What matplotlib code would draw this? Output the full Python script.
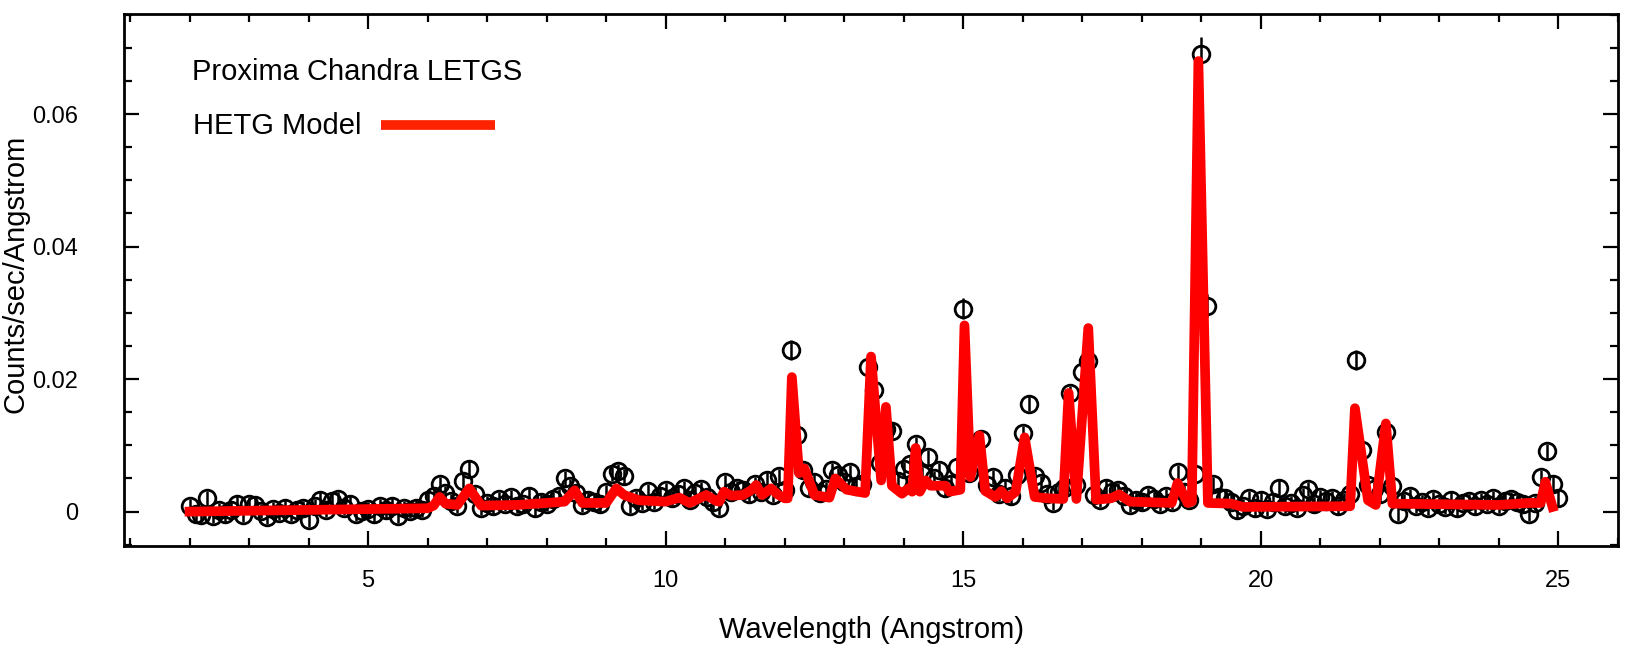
import numpy as np
import matplotlib
matplotlib.use("Agg")
import matplotlib.pyplot as plt
from matplotlib.ticker import MultipleLocator, FuncFormatter

plt.rcParams['font.family'] = ['Liberation Sans', 'DejaVu Sans']

# LETGS spectrum, 0.1 Angstrom bins from 2.0 to 25.0 (counts/sec/A, in units of 1e-3)
wave = np.round(np.arange(2.0, 25.0001, 0.1), 2)
flux_e3 = [
    0.8, -0.3, -0.5, 2.0, -0.6, 0.2, -0.4, 0.3, 1.2, -0.5,      # 2.0 - 2.9
    1.1, 1.0, 0.1, -0.8, 0.4, -0.2, 0.6, -0.3, 0.2, 0.5,        # 3.0 - 3.9
    -1.2, 0.8, 1.8, 0.3, 1.6, 1.9, 0.6, 1.2, -0.3, 0.1,         # 4.0 - 4.9
    0.4, -0.4, 0.8, 0.2, 0.9, -0.6, 0.5, 0.1, 0.6, 0.3,         # 5.0 - 5.9
    1.8, 2.4, 4.1, 2.8, 1.6, 0.9, 4.6, 6.5, 2.6, 0.6,           # 6.0 - 6.9
    1.3, 0.8, 1.9, 1.2, 2.2, 0.9, 1.1, 2.4, 0.5, 1.5,           # 7.0 - 7.9
    1.2, 1.9, 2.3, 5.0, 3.8, 2.8, 1.0, 1.8, 1.4, 1.1,           # 8.0 - 8.9
    2.9, 5.7, 6.1, 5.3, 0.9, 2.0, 1.3, 3.1, 1.5, 2.4,           # 9.0 - 9.9
    3.2, 2.0, 2.7, 3.5, 1.8, 2.8, 3.4, 2.2, 1.4, 0.6,           # 10.0 - 10.9
    4.4, 2.9, 3.5, 3.2, 2.6, 4.1, 3.0, 4.8, 2.5, 5.3,           # 11.0 - 11.9
    3.3, 24.4, 11.5, 6.2, 3.6, 4.5, 2.8, 3.4, 6.3, 5.5,         # 12.0 - 12.9
    4.4, 5.9, 3.8, 4.2, 21.8, 18.3, 7.3, 12.4, 12.2, 4.6,       # 13.0 - 13.9
    6.4, 7.2, 10.2, 5.6, 8.2, 5.0, 6.3, 3.5, 4.2, 6.8,          # 14.0 - 14.9
    30.6, 5.8, 9.3, 10.9, 4.0, 5.2, 2.7, 3.6, 2.3, 5.5,         # 15.0 - 15.9
    11.8, 16.3, 5.4, 4.3, 2.6, 1.3, 2.9, 3.5, 17.9, 4.0,        # 16.0 - 16.9
    21.0, 22.7, 2.5, 1.8, 3.6, 2.9, 3.2, 2.4, 1.0, 1.8,         # 17.0 - 17.9
    1.4, 2.5, 1.9, 1.2, 2.3, 1.5, 5.9, 3.0, 1.8, 5.6,           # 18.0 - 18.9
    69.1, 31.1, 4.1, 2.2, 2.0, 1.5, 0.2, 0.8, 2.0, 0.5,         # 19.0 - 19.9
    1.8, 0.4, 1.5, 3.6, 0.9, 1.3, 0.6, 2.5, 3.4, 1.1,           # 20.0 - 20.9
    2.2, 1.6, 2.0, 0.8, 1.7, 2.6, 22.9, 9.3, 4.0, 3.4,          # 21.0 - 21.9
    2.6, 12.0, 3.9, -0.3, 1.6, 2.3, 0.9, 1.4, 0.6, 1.9,         # 22.0 - 22.9
    1.1, 0.7, 1.8, 0.5, 1.3, 1.6, 0.8, 1.7, 1.2, 2.0,           # 23.0 - 23.9
    0.9, 1.6, 1.9, 1.4, 1.1, -0.3, 1.3, 5.2, 9.1, 4.2,          # 24.0 - 24.9
    2.0,                                                        # 25.0
]
# error bars: typical size, larger on the strong lines
err_default_e3 = 1.1
err_peaks_e3 = {12.1: 1.5, 13.4: 1.5, 15.0: 1.6, 17.1: 1.5, 19.0: 2.6, 19.1: 1.7, 21.6: 1.5}

# HETG model vertices (wavelength, flux in 1e-3)
model_wave = [
    2.0, 6.0, 6.1, 6.2, 6.3, 6.5, 6.7, 6.9, 7.5, 8.0, 8.3, 8.47, 8.6, 9.0, 9.17,
    9.3, 9.55, 10.0, 10.23, 10.4, 10.68, 10.85, 10.9, 10.98, 11.1, 11.3, 11.45,
    11.52, 11.62, 11.77, 11.88, 12.0, 12.05, 12.12, 12.24, 12.33, 12.5, 12.75,
    12.85, 13.04, 13.35, 13.45, 13.62, 13.70, 13.8, 13.97, 14.08, 14.14, 14.2,
    14.27, 14.37, 14.45, 14.7, 14.77, 14.95, 15.02, 15.12, 15.27, 15.37, 15.54,
    15.64, 15.74, 15.88, 16.03, 16.2, 16.42, 16.68, 16.77, 16.9, 17.1, 17.23,
    17.48, 17.62, 17.8, 18.5, 18.6, 18.77, 18.84, 18.95, 19.11, 19.5, 19.7,
    21.4, 21.5, 21.58, 21.8, 21.93, 22.1, 22.21, 24.0, 24.5, 24.7, 24.78, 24.9,
]
model_e3 = [
    0.0, 0.5, 0.9, 2.2, 1.2, 1.0, 3.5, 0.9, 1.0, 1.3, 1.5, 3.2, 1.3, 1.3, 3.5,
    2.5, 1.7, 1.5, 2.1, 1.3, 2.5, 1.6, 1.5, 3.0, 2.4, 2.5, 3.3,
    4.0, 2.5, 3.5, 2.6, 2.0, 2.0, 20.3, 5.8, 6.5, 2.5, 2.1,
    5.0, 3.3, 2.8, 23.4, 4.7, 15.8, 3.9, 2.7, 3.5, 3.0, 9.6,
    3.0, 4.7, 3.9, 3.9, 3.0, 3.3, 28.1, 5.2, 11.5, 3.1, 2.2,
    3.1, 2.0, 3.0, 11.2, 2.2, 2.0, 1.9, 17.9, 1.9, 27.7, 1.8,
    2.0, 2.6, 1.5, 1.3, 4.3, 1.3, 1.5, 68.0, 1.3, 1.2, 0.7,
    0.8, 0.8, 15.6, 1.7, 1.0, 13.3, 1.2, 1.0, 1.3, 1.3, 4.5, 0.7,
]

flux = np.array(flux_e3) * 1e-3
err = np.array([err_peaks_e3.get(w, err_default_e3) for w in wave]) * 1e-3
mw = np.array(model_wave)
mf = np.array(model_e3) * 1e-3

fig = plt.figure(figsize=(16.5, 6.54), dpi=100)
ax = fig.add_axes([0.0752, 0.1651, 0.9054, 0.8135])

ax.errorbar(wave, flux, yerr=err, fmt='o', ms=12, mfc='none', mec='black',
            mew=2.0, ecolor='black', elinewidth=1.8, capsize=0, zorder=2)
ax.plot(mw, mf, color='#ff0000', lw=7, solid_joinstyle='round', zorder=3)

ax.set_xlim(0.9, 26.0)
ax.set_ylim(-0.0052, 0.0751)

ax.xaxis.set_major_locator(MultipleLocator(5))
ax.xaxis.set_minor_locator(MultipleLocator(1))
ax.yaxis.set_major_locator(MultipleLocator(0.02))
ax.yaxis.set_minor_locator(MultipleLocator(0.005))
ax.yaxis.set_major_formatter(FuncFormatter(lambda v, p: '0' if abs(v) < 1e-9 else '%g' % v))

ax.tick_params(which='both', direction='in', top=True, right=True, width=1.6)
ax.tick_params(which='major', length=11)
ax.tick_params(which='minor', length=6)
ax.tick_params(axis='x', which='major', labelsize=17, pad=17)
ax.tick_params(axis='y', which='major', labelsize=17, pad=33)
for s in ax.spines.values():
    s.set_linewidth(2)

xl = ax.set_xlabel('Wavelength (Angstrom)', fontsize=21)
xl.set_va('center')
ax.xaxis.set_label_coords(0.5, -0.158)
yl = ax.set_ylabel('Counts/sec/Angstrom', fontsize=21)
yl.set_va('center')
ax.yaxis.set_label_coords(-0.0725, 0.511)

# legend-style annotations
ax.text(0.0455, 0.891, 'Proxima Chandra LETGS', transform=ax.transAxes,
        fontsize=21, va='center', ha='left')
ax.text(0.046, 0.789, 'HETG Model', transform=ax.transAxes,
        fontsize=21, va='center', ha='left')
ax.plot([0.172, 0.248], [0.791, 0.791], transform=ax.transAxes,
        color='#ff2200', lw=7, solid_capstyle='butt')

fig.savefig('out.png', dpi=100)
